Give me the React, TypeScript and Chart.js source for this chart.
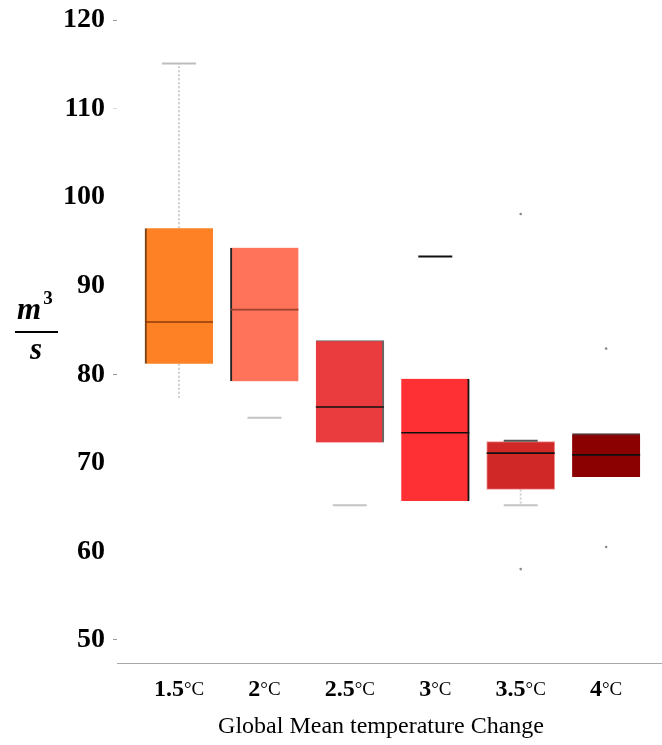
import React, { useEffect, useRef } from "react";
import { Chart, registerables } from "chart.js";

Chart.register(...registerables);

// ---- data ----
const categories = [1.5, 2, 2.5, 3, 3.5, 4];
const categoryLabels = ["1.5", "2", "2.5", "3", "3.5", "4"];
const q1 = [81.2, 79.2, 72.3, 65.7, 67.0, 68.4];
const q3 = [96.5, 94.3, 83.8, 79.5, 72.4, 73.3];
const medians = [85.9, 87.3, 76.3, 73.4, 71.1, 70.9];
const upperWhiskerEnd = [115.1, null, null, null, null, null];
const lowerWhiskerEnd = [77.3, null, null, null, 65.2, null];
const upperCaps = [115.1, null, null, 93.3, 72.5, null];
const lowerCaps = [null, 75.1, 65.2, null, 65.2, null];
const outlierX = [3.5, 3.5, 4, 4];
const outlierY = [98.1, 58.0, 82.9, 60.5];
const yTicks = [50, 60, 70, 80, 90, 100, 110, 120];
const xTitle = "Global Mean temperature Change";

// ---- styles ----
const boxColors = ["#FE8225", "#FF735A", "#EA3C3E", "#FF3034", "#D02727", "#8B0000"];
const boxBorderColors = ["#7B3F12", "#222222", "#666666", "#111111", "#F09090", "#5A3030"];
const boxBorderWidths: any[] = [
  { left: 2 },
  { left: 2 },
  { top: 1, right: 2 },
  { right: 2 },
  1,
  { top: 2 },
];
const medianColors = ["#8B3A0A", "#A0412E", "#111111", "#111111", "#111111", "#111111"];
const upperCapColors = ["#BDBDBD", null, null, "#111111", "#555555", null];
const lowerCapColors = [null, "#C4C4C4", "#C4C4C4", null, "#C4C4C4", null];

const X_MIN = 1.137;
const X_MAX = 4.327;
const Y_MIN = 47.4;
const Y_MAX = 122.26;

const overlayPlugin = {
  id: "overlay",
  afterDraw(chart: any) {
    const ctx = chart.ctx;
    const xs = chart.scales.x;
    ctx.save();
    ctx.fillStyle = "#000";
    ctx.textBaseline = "middle";
    // x tick labels: bold number + normal °C
    categories.forEach((c, i) => {
      const px = xs.getPixelForValue(c);
      const num = categoryLabels[i];
      ctx.font = 'bold 24px "Liberation Serif"';
      const wn = ctx.measureText(num).width;
      ctx.font = '19px "Liberation Serif"';
      const wu = ctx.measureText("°C").width;
      const start = px - (wn + wu) / 2;
      ctx.textAlign = "left";
      ctx.font = 'bold 24px "Liberation Serif"';
      ctx.fillText(num, start, 690);
      ctx.font = '19px "Liberation Serif"';
      ctx.fillText("°C", start + wn, 690);
    });
    // x title
    ctx.textAlign = "center";
    ctx.font = '24px "Liberation Serif"';
    ctx.fillText(xTitle, 381, 727);
    // y title as fraction m^3 / s
    ctx.font = 'italic bold 31px "Liberation Serif"';
    ctx.fillText("m", 29, 311);
    ctx.font = 'bold 19px "Liberation Serif"';
    ctx.fillText("3", 48, 299);
    ctx.font = 'italic bold 31px "Liberation Serif"';
    ctx.fillText("s", 36, 351);
    ctx.strokeStyle = "#000";
    ctx.lineWidth = 2;
    ctx.beginPath();
    ctx.moveTo(15, 332);
    ctx.lineTo(58, 332);
    ctx.stroke();
    ctx.restore();
  },
};

export default function App() {
  const ref = useRef<HTMLCanvasElement>(null);
  useEffect(() => {
    if (!ref.current) return;
    const whiskerData: any[] = [];
    categories.forEach((c, i) => {
      if (upperWhiskerEnd[i] != null) {
        whiskerData.push({ x: c, y: q3[i] }, { x: c, y: upperWhiskerEnd[i] }, { x: c, y: null });
      }
      if (lowerWhiskerEnd[i] != null) {
        whiskerData.push({ x: c, y: q1[i] }, { x: c, y: lowerWhiskerEnd[i] }, { x: c, y: null });
      }
    });
    const upCapIdx = categories.map((_, i) => i).filter((i) => upperCaps[i] != null);
    const loCapIdx = categories.map((_, i) => i).filter((i) => lowerCaps[i] != null);
    const capData = [
      ...upCapIdx.map((i) => ({ x: categories[i], y: upperCaps[i] })),
      ...loCapIdx.map((i) => ({ x: categories[i], y: lowerCaps[i] })),
    ];
    const capColors = [
      ...upCapIdx.map((i) => upperCapColors[i]),
      ...loCapIdx.map((i) => lowerCapColors[i]),
    ];

    const chart = new Chart(ref.current, {
      type: "bar",
      data: {
        datasets: [
          {
            type: "line",
            data: whiskerData,
            borderColor: "#CFCFCF",
            borderWidth: 2,
            borderDash: [2, 2],
            pointRadius: 0,
            spanGaps: false,
            order: 3,
          } as any,
          {
            type: "bar",
            data: categories.map((c, i) => ({ x: c, y: [q1[i], q3[i]] })),
            backgroundColor: boxColors,
            borderColor: boxBorderColors,
            borderWidth: (ctx: any) => boxBorderWidths[ctx.dataIndex],
            borderSkipped: false,
            barThickness: 68,
            grouped: false,
            order: 2,
          } as any,
          {
            type: "scatter",
            data: categories.map((c, i) => ({ x: c, y: medians[i] })),
            pointStyle: "line",
            pointRadius: 34,
            pointBorderColor: medianColors,
            pointBorderWidth: 1.6,
            order: 1,
          } as any,
          {
            type: "scatter",
            data: capData,
            pointStyle: "line",
            pointRadius: 17,
            pointBorderColor: capColors,
            pointBorderWidth: 2,
            order: 1,
          } as any,
          {
            type: "scatter",
            data: outlierX.map((x, i) => ({ x, y: outlierY[i] })),
            pointRadius: 1.3,
            pointBackgroundColor: "#8A8A8A",
            pointBorderColor: "#8A8A8A",
            pointBorderWidth: 0,
            order: 1,
          } as any,
        ],
      },
      options: {
        animation: false,
        responsive: false,
        maintainAspectRatio: false,
        layout: { padding: 0, autoPadding: false },
        plugins: { legend: { display: false }, tooltip: { enabled: false } },
        scales: {
          x: {
            type: "linear",
            min: X_MIN,
            max: X_MAX,
            offset: false,
            grid: { display: false },
            border: { display: true, color: "#A8A8A8", width: 1 },
            ticks: { display: false },
            afterBuildTicks: (axis: any) => {
              axis.ticks = categories.map((v) => ({ value: v }));
            },
            afterFit: (s: any) => {
              s.height = 82;
              s.paddingLeft = 0;
              s.paddingRight = 0;
            },
          },
          y: {
            type: "linear",
            min: Y_MIN,
            max: Y_MAX,
            afterBuildTicks: (axis: any) => {
              axis.ticks = yTicks.map((v) => ({ value: v }));
            },
            ticks: {
              color: "#000",
              padding: 8,
              font: { family: "Liberation Serif", weight: "bold", size: 28 },
            },
            grid: {
              drawOnChartArea: false,
              drawTicks: true,
              tickLength: 4,
              color: (ctx: any) => {
                const v = ctx.tick && ctx.tick.value;
                if (v === 120 || v === 80 || v === 50) return "#9A9A9A";
                if (v === 110) return "#DDDDDD";
                return "rgba(0,0,0,0)";
              },
            },
            border: { display: false },
            afterFit: (s: any) => {
              s.width = 117;
              s.paddingTop = 0;
              s.paddingBottom = 0;
            },
          },
        },
      } as any,
      plugins: [overlayPlugin],
    });
    return () => chart.destroy();
  }, []);
  return (
    <div style={{ position: "absolute", left: 0, top: 0, width: 662, height: 745, background: "#fff" }}>
      <canvas ref={ref} width={662} height={745} style={{ display: "block" }} />
    </div>
  );
}
